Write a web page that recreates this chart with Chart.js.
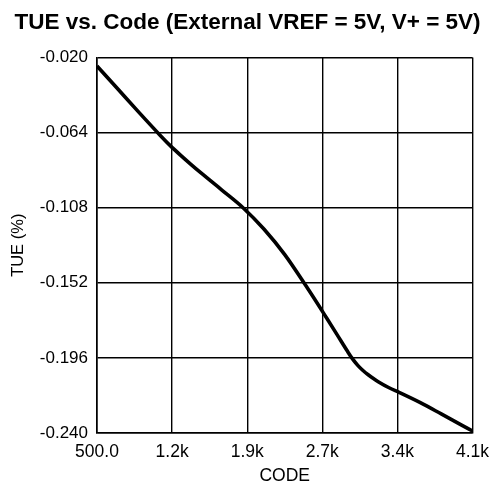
<!DOCTYPE html>
<html>
<head>
<meta charset="utf-8">
<script src="https://cdn.jsdelivr.net/npm/chart.js@4"></script>
<style>
html,body{margin:0;padding:0;background:#fff;}
#wrap{width:492px;height:484px;position:relative;}
</style>
</head>
<body>
<div id="wrap"><canvas id="c" width="492" height="484"></canvas></div>
<script>
const codes = [500, 700, 900, 1100, 1200, 1300, 1400, 1500, 1700, 1900, 2100, 2300, 2500, 2700, 2800, 2900, 2950, 3000, 3050, 3100, 3150, 3200, 3300, 3400, 3600, 3800, 4000, 4100];
const tue   = [-0.025, -0.0385, -0.052, -0.0652, -0.0715, -0.0772, -0.0826, -0.0878, -0.0978, -0.108, -0.1205, -0.1355, -0.1535, -0.1725, -0.1822, -0.1920, -0.1966, -0.2004, -0.2034, -0.2059, -0.2081, -0.2101, -0.2135, -0.2163, -0.2222, -0.2288, -0.2355, -0.2388];
const xTicks = [500, 1220, 1940, 2660, 3380, 4100];
const xTickLabels = ["500.0", "1.2k", "1.9k", "2.7k", "3.4k", "4.1k"];
const yTicks = [-0.240, -0.196, -0.152, -0.108, -0.064, -0.020];
const yTickLabels = ["-0.240", "-0.196", "-0.152", "-0.108", "-0.064", "-0.020"];

const FONT = "'Liberation Sans', Arial, sans-serif";
new Chart(document.getElementById('c'), {
  type: 'line',
  data: {
    datasets: [{
      data: codes.map((c, i) => ({x: c, y: tue[i]})),
      borderColor: '#000',
      borderWidth: 3.6,
      pointRadius: 0,
      cubicInterpolationMode: 'monotone',
      fill: false
    }]
  },
  options: {
    responsive: false,
    animation: false,
    layout: {padding: {left: 3, right: 0, top: 0, bottom: 0}},
    plugins: {
      legend: {display: false},
      tooltip: {enabled: false},
      title: {
        display: true,
        text: 'TUE vs. Code (External VREF = 5V, V+ = 5V)',
        color: '#000',
        font: {family: FONT, size: 22.5, weight: 'bold'},
        padding: {top: 9, bottom: 21.5}
      }
    },
    scales: {
      x: {
        type: 'linear',
        min: 500, max: 4100,
        afterBuildTicks: s => { s.ticks = xTicks.map(v => ({value: v})); },
        ticks: {
          autoSkip: false, maxRotation: 0, color: '#000',
          font: {family: FONT, size: 17.5}, padding: 9,
          callback: (v) => xTickLabels[xTicks.indexOf(v)]
        },
        grid: {color: '#000', lineWidth: 1.4, drawTicks: false},
        border: {color: '#000', width: 1.6},
        title: {display: true, text: 'CODE', color: '#000', font: {family: FONT, size: 17.5}, padding: {top: 0, bottom: -3}},
        afterFit: s => { s.height = 51; s.paddingRight = 19.5; }
      },
      y: {
        type: 'linear',
        min: -0.240, max: -0.020,
        afterBuildTicks: s => { s.ticks = yTicks.map(v => ({value: v})); },
        ticks: {
          autoSkip: false, color: '#000',
          font: {family: FONT, size: 17}, padding: 9,
          callback: (v) => { const i = yTicks.findIndex(t => Math.abs(t - v) < 1e-9); return i >= 0 ? yTickLabels[i] : ''; }
        },
        grid: {color: '#000', lineWidth: 1.4, drawTicks: false},
        border: {color: '#000', width: 1.6},
        title: {display: true, text: 'TUE (%)', color: '#000', font: {family: FONT, size: 16.5}, padding: {top: 6, bottom: 4}},
        afterFit: s => { s.width = 94; }
      }
    }
  }
});
</script>
</body>
</html>
